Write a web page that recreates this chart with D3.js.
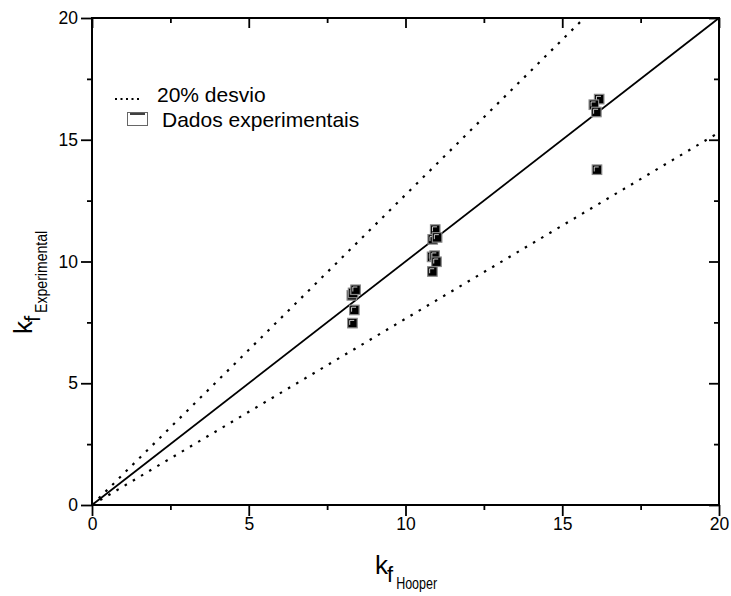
<!DOCTYPE html>
<html>
<head>
<meta charset="utf-8">
<script src="https://cdnjs.cloudflare.com/ajax/libs/d3/7.8.5/d3.min.js"></script>
<style>
  body { margin: 0; background: #fff; }
  text { font-family: "Liberation Sans", Arial, sans-serif; fill: #000; }
</style>
</head>
<body>
<div id="chart"></div>
<script>
// measured data points (kf Hooper vs kf Experimental)
const kfHooper = [8.28, 8.32, 8.40, 8.36, 8.30, 10.94, 10.86, 11.00, 10.84, 10.92, 10.98, 10.85, 16.17, 16.00, 16.08, 16.10];
const kfExperimental = [8.62, 8.72, 8.85, 8.02, 7.48, 11.32, 10.92, 11.00, 10.20, 10.25, 10.00, 9.60, 16.68, 16.45, 16.15, 13.78];

// reference lines
const idealLine = [[0, 0], [20, 20]];
const upperDev = [[0, 0], [15.7, 20]];
const lowerDev = [[0, 0], [20, 15.3]];

const majorTicks = [0, 5, 10, 15, 20];
const minorTicks = [2.5, 7.5, 12.5, 17.5];

const MARGIN = { TOP: 18, BOTTOM: 91, LEFT: 92, RIGHT: 12 };
const WIDTH = 731 - MARGIN.LEFT - MARGIN.RIGHT;
const HEIGHT = 596 - MARGIN.TOP - MARGIN.BOTTOM;

const svg = d3.select("#chart").append("svg")
    .attr("width", 731)
    .attr("height", 596);

const g = svg.append("g")
    .attr("transform", `translate(${MARGIN.LEFT}, ${MARGIN.TOP})`);

const x = d3.scaleLinear().domain([0, 20]).range([0, WIDTH]);
const y = d3.scaleLinear().domain([0, 20]).range([HEIGHT, 0]);

// lines
const line = d3.line().x(d => x(d[0])).y(d => y(d[1]));

g.append("path").datum(idealLine)
    .attr("d", line).attr("fill", "none")
    .attr("stroke", "#000").attr("stroke-width", 1.8);

[upperDev, lowerDev].forEach(l => {
  g.append("path").datum(l)
    .attr("d", line).attr("fill", "none")
    .attr("stroke", "#000").attr("stroke-width", 2.2)
    .attr("stroke-dasharray", "2.5 7");
});

// markers
const pts = kfHooper.map((v, i) => [v, kfExperimental[i]]);
const mk = g.selectAll(".pt").data(pts).enter().append("g")
    .attr("transform", d => `translate(${x(d[0])}, ${y(d[1])})`);
mk.append("rect")
    .attr("x", -4.5).attr("y", -4.5).attr("width", 9.5).attr("height", 9.5)
    .attr("fill", "#000").attr("stroke", "#888").attr("stroke-width", 1.2);
mk.append("path")
    .attr("d", "M-2.5,2 V-2.5 H2")
    .attr("fill", "none").attr("stroke", "#fff").attr("stroke-width", 0.8);

// axes
const axisStyle = sel => {
  sel.select(".domain").remove();
  sel.selectAll("line").attr("stroke", "#000").attr("stroke-width", 1.8);
  sel.selectAll("text").style("font-size", "17.5px");
};

const xAxis = g.append("g").attr("transform", `translate(0, ${HEIGHT})`)
    .call(d3.axisBottom(x).tickValues(majorTicks).tickSize(11).tickPadding(2).tickFormat(d3.format("d")));
xAxis.call(axisStyle);
g.append("g").attr("transform", `translate(0, ${HEIGHT})`)
    .call(d3.axisBottom(x).tickValues(minorTicks).tickSize(5).tickFormat(""))
    .call(axisStyle);

const yAxis = g.append("g")
    .call(d3.axisLeft(y).tickValues(majorTicks).tickSize(11).tickPadding(3).tickFormat(d3.format("d")));
yAxis.call(axisStyle);
g.append("g")
    .call(d3.axisLeft(y).tickValues(minorTicks).tickSize(5).tickFormat(""))
    .call(axisStyle);

// top and right axes, ticks pointing inward
g.append("g")
    .call(d3.axisBottom(x).tickValues(majorTicks).tickSize(10).tickFormat(""))
    .call(axisStyle);
g.append("g")
    .call(d3.axisBottom(x).tickValues(minorTicks).tickSize(5).tickFormat(""))
    .call(axisStyle);
g.append("g").attr("transform", `translate(${WIDTH}, 0)`)
    .call(d3.axisLeft(y).tickValues(majorTicks).tickSize(10).tickFormat(""))
    .call(axisStyle);
g.append("g").attr("transform", `translate(${WIDTH}, 0)`)
    .call(d3.axisLeft(y).tickValues(minorTicks).tickSize(5).tickFormat(""))
    .call(axisStyle);

// frame
g.append("rect")
    .attr("width", WIDTH).attr("height", HEIGHT)
    .attr("fill", "none").attr("stroke", "#000").attr("stroke-width", 2);

// axis titles: k + subscript f + subscript label
function composite(parent, sub) {
  const k = parent.append("text").attr("x", 0).attr("y", 0)
      .style("font-size", "26px").text("k");
  const kw = k.node().getComputedTextLength();
  const f = parent.append("text").attr("x", kw - 1).attr("y", 8)
      .style("font-size", "22px").text("f");
  const fw = f.node().getComputedTextLength();
  parent.append("text").attr("x", kw + fw + 2).attr("y", 15)
      .style("font-size", "16px")
      .attr("textLength", sub.len).attr("lengthAdjust", "spacingAndGlyphs")
      .text(sub.label);
}

composite(svg.append("g").attr("transform", "translate(375, 574)"), { label: "Hooper", len: 41 });
composite(svg.append("g").attr("transform", "translate(32, 334) rotate(-90)"), { label: "Experimental", len: 82 });

// legend
const lg = svg.append("g");
lg.append("line")
    .attr("x1", 115).attr("x2", 139).attr("y1", 99).attr("y2", 99)
    .attr("stroke", "#000").attr("stroke-width", 2)
    .attr("stroke-dasharray", "2 3.5");
lg.append("text").attr("x", 157).attr("y", 102)
    .style("font-size", "21px").text("20% desvio");
lg.append("rect")
    .attr("x", 127.5).attr("y", 112.5).attr("width", 20).attr("height", 13)
    .attr("fill", "#fff").attr("stroke", "#666").attr("stroke-width", 1);
lg.append("line")
    .attr("x1", 130).attr("x2", 145).attr("y1", 114).attr("y2", 114)
    .attr("stroke", "#000").attr("stroke-width", 1.5);
lg.append("text").attr("x", 162).attr("y", 127)
    .style("font-size", "21px").text("Dados experimentais");
</script>
</body>
</html>
